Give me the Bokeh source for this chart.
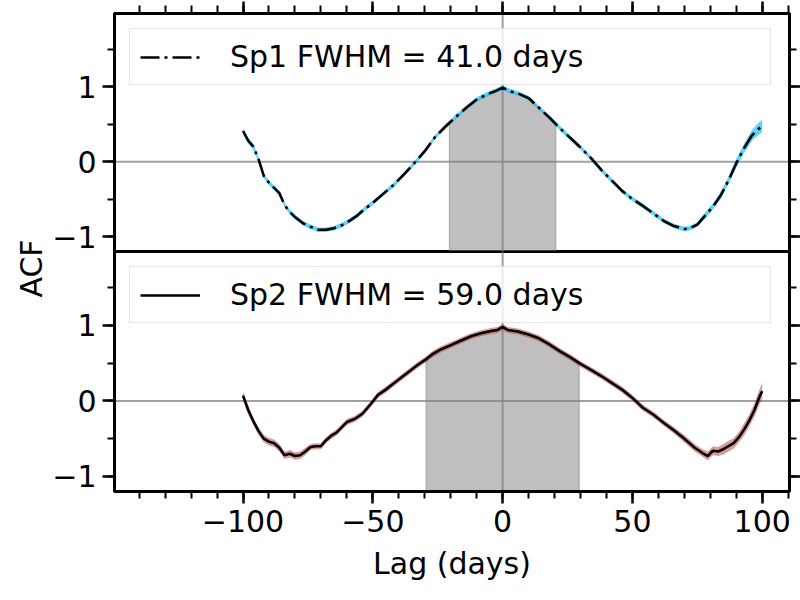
import numpy as np
from math import pi
from bokeh.plotting import figure
from bokeh.layouts import row, column
from bokeh.models import (Range1d, LinearAxis, SingleIntervalTicker, CustomJSTickFormatter,
                          Span, Legend, LegendItem, Label, ColumnDataSource)
from bokeh.embed import file_html
from bokeh.resources import INLINE

# ---------------- data ----------------
lag1 = [-100, -98, -96, -94, -92, -90, -88, -86, -84, -82, -80, -77, -74, -71, -68, -65, -62, -59,
        -56, -53, -50, -46, -42, -38, -34, -30, -26, -22, -18, -14, -10, -6, -3, 0,
        3, 6, 10, 14, 18, 22, 26, 30, 34, 38, 42, 46, 50, 54, 58, 62, 66, 70, 72, 75, 78, 81,
        84, 87, 90, 93, 96, 98, 100]
acf1 = [0.41, 0.28, 0.20, 0.03, -0.19, -0.28, -0.35, -0.42, -0.58, -0.67, -0.74, -0.82, -0.87,
        -0.91, -0.91, -0.89, -0.85, -0.79, -0.72, -0.63, -0.55, -0.43, -0.31, -0.17, -0.02, 0.14,
        0.33, 0.47, 0.60, 0.72, 0.83, 0.90, 0.94, 0.99,
        0.94, 0.91, 0.85, 0.72, 0.59, 0.45, 0.32, 0.19, 0.05, -0.11, -0.25, -0.39, -0.50, -0.59,
        -0.69, -0.79, -0.86, -0.90, -0.89, -0.84, -0.72, -0.60, -0.45, -0.25, -0.02, 0.18, 0.35,
        0.42, 0.48]
err1 = [0.04, 0.04, 0.04, 0.03, 0.03, 0.03, 0.03, 0.03, 0.03, 0.03, 0.03, 0.03, 0.03, 0.03, 0.03,
        0.03, 0.03, 0.03, 0.03, 0.03, 0.03, 0.03, 0.03, 0.03, 0.03, 0.03, 0.03, 0.03, 0.03, 0.03,
        0.03, 0.03, 0.03, 0.03,
        0.03, 0.03, 0.03, 0.03, 0.03, 0.03, 0.03, 0.03, 0.03, 0.03, 0.03, 0.03, 0.03, 0.03, 0.03,
        0.03, 0.03, 0.03, 0.03, 0.03, 0.04, 0.04, 0.05, 0.05, 0.06, 0.06, 0.07, 0.08, 0.08]

lag2 = [-100, -98, -96, -94, -92, -90, -88, -86, -84, -82, -80, -78, -76, -74, -72, -70, -68, -66,
        -64, -62, -60, -57, -54, -51, -48, -45, -42, -39, -36, -33, -30, -27, -24, -20, -16, -12,
        -8, -4, -2, 0, 2, 6, 10, 14, 18, 22, 26, 30, 34, 38, 42, 46, 50, 54, 58, 62, 66, 70, 74,
        77, 79, 81, 83, 85, 87, 89, 91, 93, 95, 97, 99, 100]
acf2 = [0.07, -0.12, -0.27, -0.40, -0.50, -0.54, -0.56, -0.62, -0.72, -0.70, -0.73, -0.72, -0.67,
        -0.61, -0.60, -0.60, -0.52, -0.46, -0.42, -0.35, -0.28, -0.24, -0.17, -0.05, 0.08, 0.15,
        0.23, 0.31, 0.39, 0.47, 0.54, 0.62, 0.68, 0.74, 0.80, 0.86, 0.90, 0.93, 0.94, 0.98, 0.94,
        0.92, 0.88, 0.83, 0.75, 0.66, 0.58, 0.49, 0.41, 0.33, 0.24, 0.15, 0.04, -0.09, -0.18,
        -0.29, -0.39, -0.50, -0.62, -0.69, -0.73, -0.66, -0.67, -0.64, -0.60, -0.56, -0.48, -0.38,
        -0.26, -0.12, 0.06, 0.13]
err2 = [0.06, 0.06, 0.05, 0.05, 0.05, 0.05, 0.05, 0.05, 0.05, 0.05, 0.05, 0.05, 0.05, 0.04, 0.04,
        0.04, 0.04, 0.04, 0.04, 0.04, 0.04, 0.04, 0.04, 0.04, 0.04, 0.04, 0.04, 0.04, 0.04, 0.04,
        0.04, 0.04, 0.04, 0.04, 0.04, 0.04, 0.04, 0.04, 0.04, 0.04, 0.04, 0.04, 0.04, 0.04, 0.04,
        0.04, 0.04, 0.04, 0.04, 0.04, 0.04, 0.04, 0.04, 0.04, 0.04, 0.04, 0.04, 0.05, 0.05, 0.05,
        0.06, 0.06, 0.06, 0.07, 0.07, 0.07, 0.07, 0.08, 0.08, 0.09, 0.10, 0.11]

labels = ["Sp1 FWHM = 41.0 days", "Sp2 FWHM = 59.0 days"]
fwhms = [41.0, 59.0]
y_lo, y_hi = -1.2, 1.98

FONT = "DejaVu Sans"
FS = "30px"
MINUS_JS = "return tick < 0 ? '\\u2212' + Math.abs(tick) : tick.toString();"
OVERLAP = 6


def style_axis(ax, show_labels, tick_out=12, minor_out=7):
    ax.axis_line_width = 3
    ax.axis_line_color = "black"
    ax.major_tick_line_width = 2.5
    ax.minor_tick_line_width = 2
    ax.major_tick_line_color = "black"
    ax.minor_tick_line_color = "black"
    ax.major_tick_in = 0
    ax.minor_tick_in = 0
    ax.major_tick_out = tick_out
    ax.minor_tick_out = minor_out
    if show_labels:
        ax.major_label_text_font = FONT
        ax.major_label_text_font_size = FS
        ax.major_label_text_color = "black"
        ax.major_label_standoff = 6
        ax.formatter = CustomJSTickFormatter(code=MINUS_JS)
    else:
        ax.formatter = CustomJSTickFormatter(code="return '';")
        ax.major_label_text_font_size = "10px"
        ax.major_label_standoff = 0


def make_panel(lag, acf, err, fwhm, label, dash, band_color, band_alpha, top, bottom):
    p = figure(frame_width=675, frame_height=238 if top else 240,
               x_range=Range1d(-149.5, 110.5), y_range=Range1d(y_lo, y_hi),
               output_backend="svg", toolbar_location=None,
               x_axis_location=None, y_axis_location="left",
               min_border_left=62, min_border_right=0,
               min_border_top=13 if top else 0,
               min_border_bottom=97 if bottom else OVERLAP,
               outline_line_color="black", outline_line_width=3)
    p.grid.visible = False
    if top:
        p.background_fill_color = "white"
        p.border_fill_color = "white"
    else:
        p.background_fill_alpha = 0
        p.border_fill_alpha = 0

    yax = p.yaxis[0]
    yax.ticker = SingleIntervalTicker(interval=1, num_minor_ticks=2)
    style_axis(yax, True)

    rax = LinearAxis(ticker=SingleIntervalTicker(interval=1, num_minor_ticks=2))
    style_axis(rax, False)
    p.add_layout(rax, "right")

    if top:
        aax = LinearAxis(ticker=SingleIntervalTicker(interval=50, num_minor_ticks=5))
        style_axis(aax, False, tick_out=12, minor_out=8)
        p.add_layout(aax, "above")
    if bottom:
        bax = LinearAxis(ticker=SingleIntervalTicker(interval=50, num_minor_ticks=5))
        style_axis(bax, True)
        bax.axis_label = "Lag (days)"
        bax.axis_label_text_font = FONT
        bax.axis_label_text_font_size = FS
        bax.axis_label_text_font_style = "normal"
        bax.axis_label_text_color = "black"
        bax.axis_label_standoff = 11
        p.add_layout(bax, "below")

    p.add_layout(Span(location=0, dimension="width", line_color="gray", line_alpha=0.75,
                      line_width=2, level="underlay"))
    p.add_layout(Span(location=0, dimension="height", line_color="gray", line_alpha=0.75,
                      line_width=2, level="underlay"))

    # shaded area under the ACF within +/- FWHM/2
    a = np.array(acf, dtype=float)
    x = np.array(lag, dtype=float)
    h = fwhm / 2
    inside = (x > -h) & (x < h)
    fx = np.concatenate([[-h], x[inside], [h]])
    fy = np.concatenate([[np.interp(-h, x, a)], a[inside], [np.interp(h, x, a)]])
    p.varea(x=fx, y1=np.full(len(fx), y_lo), y2=fy, fill_color="gray", fill_alpha=0.5)
    p.segment(x0=[-h, h], y0=[y_lo, y_lo], x1=[-h, h], y1=[fy[0], fy[-1]],
              line_color="gray", line_alpha=0.6, line_width=1)

    e = np.array(err)
    src = ColumnDataSource(dict(x=lag, y=acf, lo=a - e, hi=a + e))
    p.varea(x="x", y1="lo", y2="hi", source=src, fill_color=band_color, fill_alpha=band_alpha)
    ln = p.line(x="x", y="y", source=src, line_color="black", line_width=2.6,
                line_dash=dash)

    leg = Legend(items=[LegendItem(label=label, renderers=[ln])], location="top_left")
    leg.margin = 15
    leg.padding = 10
    leg.glyph_width = 60
    leg.label_standoff = 30
    leg.label_width = 530
    leg.label_text_font = FONT
    leg.label_text_font_size = FS
    leg.label_text_color = "black"
    leg.border_line_color = "#cccccc"
    leg.border_line_width = 1
    leg.background_fill_color = "white"
    leg.background_fill_alpha = 0.8
    p.add_layout(leg)
    return p


p1 = make_panel(lag1, acf1, err1, fwhms[0], labels[0], "19 5 3 5", "deepskyblue", 0.65,
                top=True, bottom=False)
p2 = make_panel(lag2, acf2, err2, fwhms[1], labels[1], "solid", "firebrick", 0.45,
                top=False, bottom=True)
p2.styles = {"margin-top": f"-{OVERLAP}px"}

total_h = 13 + 238 + 240 + 97
pl = figure(frame_width=49, frame_height=total_h, x_range=Range1d(0, 1), y_range=Range1d(0, 1),
            x_axis_location=None, y_axis_location=None, min_border=0,
            outline_line_color=None, toolbar_location=None, output_backend="svg")
pl.grid.visible = False
pl.add_layout(Label(x=31 / 49, y=1 - 268 / total_h, text="ACF", angle=pi / 2,
                    text_align="center", text_baseline="middle", text_font=FONT,
                    text_font_size=FS, text_color="black"))

layout = row(pl, column(p1, p2))
open("out.html", "w").write(file_html(layout, INLINE))
